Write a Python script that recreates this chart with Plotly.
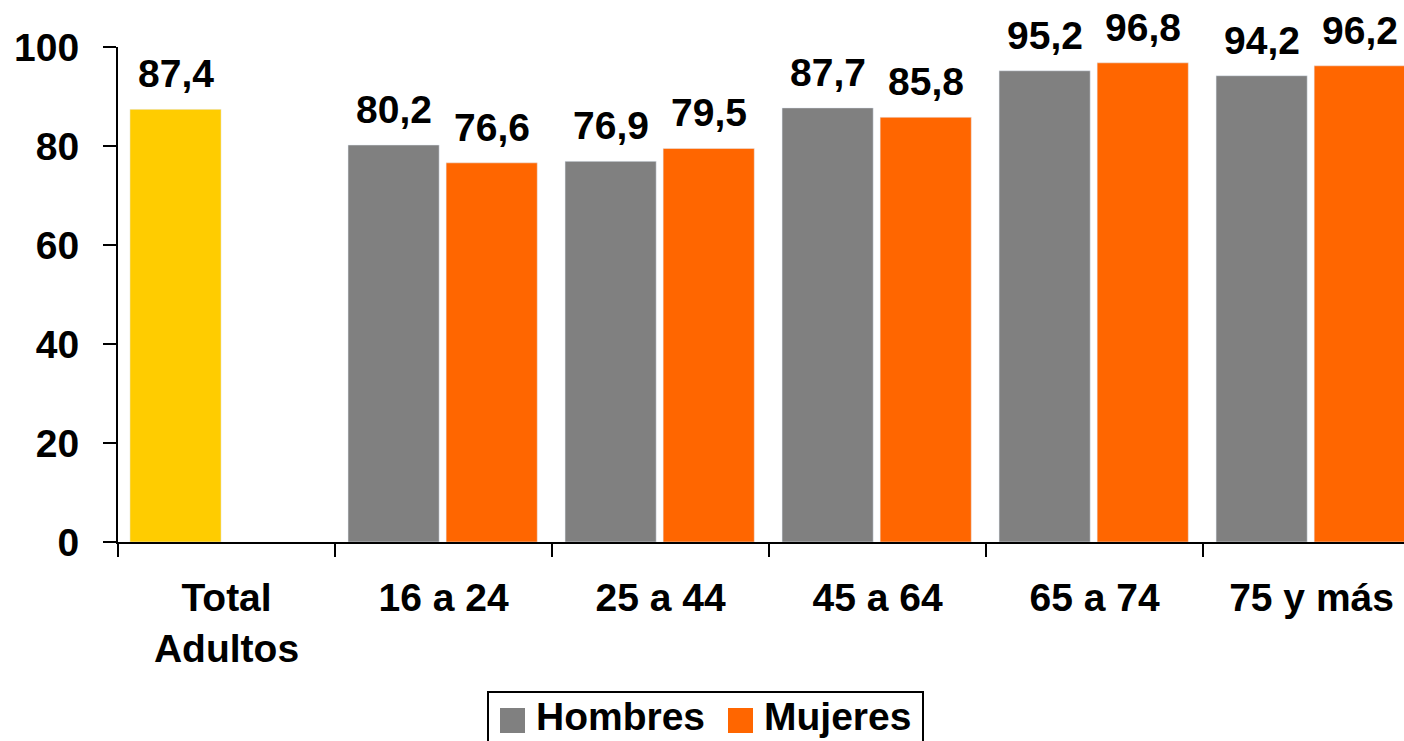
import plotly.graph_objects as go

categories = ["Total<br>Adultos", "16 a 24", "25 a 44", "45 a 64", "65 a 74", "75 y más"]
total_label = categories[0]
total_value = [87.4]
age_groups = categories[1:]
hombres = [80.2, 76.9, 87.7, 95.2, 94.2]
mujeres = [76.6, 79.5, 85.8, 96.8, 96.2]
series_names = ["Hombres", "Mujeres"]
series_colors = ["#808080", "#FF6600"]
total_color = "#FFCC00"

FONT = "Liberation Sans, Arial, sans-serif"
FS = 39
BAR_W = 0.42
OFF_H = -0.44
OFF_M = 0.012
OFF_T = -0.445

W, H = 1404, 741
ML, MT, MB = 118, 47, 199
PW, PH = W - ML, H - MT - MB

fig = go.Figure()
fig.add_bar(x=[total_label], y=total_value, marker_color=total_color, width=BAR_W,
            offset=OFF_T, showlegend=False, name="Total")
fig.add_bar(x=age_groups, y=hombres, marker_color=series_colors[0], width=BAR_W,
            offset=OFF_H, name=series_names[0], showlegend=False)
fig.add_bar(x=age_groups, y=mujeres, marker_color=series_colors[1], width=BAR_W,
            offset=OFF_M, name=series_names[1], showlegend=False)

def fmt(v):
    return f"{v:.1f}".replace(".", ",")

tfont = dict(family=FONT, size=FS, color="black", weight="bold")
idx = {c: i for i, c in enumerate(categories)}
pts = []
for c, v in zip([total_label], total_value):
    pts.append((idx[c] + OFF_T + BAR_W / 2, v))
for c, v in zip(age_groups, hombres):
    pts.append((idx[c] + OFF_H + BAR_W / 2, v))
for c, v in zip(age_groups, mujeres):
    pts.append((idx[c] + OFF_M + BAR_W / 2, v))
for x, v in pts:
    fig.add_annotation(x=x, y=v, text=fmt(v), showarrow=False, yanchor="bottom",
                       yshift=12, font=tfont)

# custom legend (box, swatches, labels) positioned in pixels
def px_x(p):
    return (p - ML) / PW
def px_y(p):
    return (H - MB - p) / PH

fig.add_shape(type="rect", xref="paper", yref="paper",
              x0=px_x(488), x1=px_x(923), y0=px_y(692), y1=px_y(775),
              line=dict(color="black", width=2), fillcolor="white")
legend_x = [500, 728]
for lx, name, col in zip(legend_x, series_names, series_colors):
    fig.add_shape(type="rect", xref="paper", yref="paper",
                  x0=px_x(lx), x1=px_x(lx + 25), y0=px_y(733), y1=px_y(708),
                  line=dict(width=0), fillcolor=col)
    fig.add_annotation(xref="paper", yref="paper", x=px_x(lx + 34), y=px_y(716),
                       xanchor="left", yanchor="middle", text=name, showarrow=False,
                       font=tfont)

fig.update_layout(
    width=W, height=H,
    margin=dict(l=ML, r=0, t=MT, b=MB, autoexpand=False),
    paper_bgcolor="white", plot_bgcolor="white",
    barmode="overlay",
    font=tfont,
    showlegend=False,
    xaxis=dict(type="category", categoryorder="array", categoryarray=categories,
               range=[-0.5, 5.426], showline=True, linecolor="black", linewidth=2,
               ticks="outside", tickson="boundaries", ticklen=13, tickwidth=2,
               tickcolor="black", showgrid=False, zeroline=False, automargin=False,
               ticklabelstandoff=20),
    yaxis=dict(range=[0, 100], dtick=20, showline=True, linecolor="black", linewidth=2,
               ticks="outside", ticklen=13, tickwidth=2, tickcolor="black",
               showgrid=False, zeroline=False, automargin=False, ticklabelstandoff=16),
)

fig.write_html(
    "out.html",
    config={"displayModeBar": False},
    post_script="document.body.style.margin='0';document.body.style.overflow='hidden';",
)
